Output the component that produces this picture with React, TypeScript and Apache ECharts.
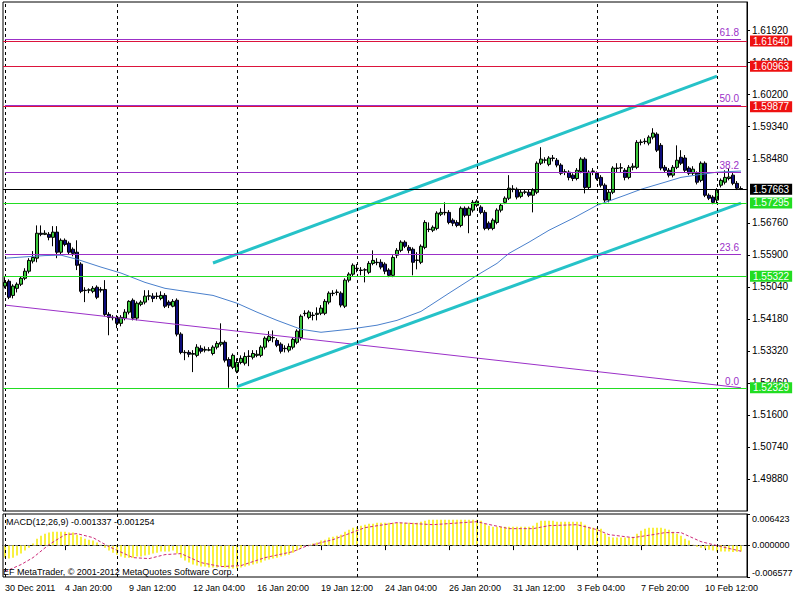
import { useEffect, useRef } from "react";
import * as echarts from "echarts";

// ---------- DATA ----------
const opens = [
  1.5506, 1.5519, 1.5481, 1.55, 1.5511, 1.5527, 1.5546, 1.5573, 1.5581, 1.5648,
  1.5645, 1.5645, 1.5637, 1.5651, 1.5597, 1.5629, 1.5621, 1.5605, 1.5597, 1.5565,
  1.5495, 1.5495, 1.5492, 1.5503, 1.5495, 1.5497, 1.543, 1.5422, 1.5422, 1.5406,
  1.542, 1.5436, 1.5468, 1.542, 1.5457, 1.5463, 1.5479, 1.5479, 1.5479, 1.5473,
  1.5481, 1.5463, 1.5452, 1.5468, 1.5377, 1.5328, 1.5328, 1.5323, 1.532, 1.5339,
  1.5334, 1.5334, 1.5325, 1.5342, 1.535, 1.5355, 1.5309, 1.5288, 1.5277, 1.5301,
  1.5299, 1.5317, 1.5315, 1.532, 1.532, 1.5342, 1.536, 1.5368, 1.536, 1.535,
  1.5339, 1.5334, 1.5342, 1.5355, 1.5368, 1.5433, 1.5422, 1.5428, 1.543, 1.5433,
  1.5433, 1.5463, 1.5487, 1.5489, 1.5487, 1.5452, 1.5522, 1.5538, 1.5554, 1.5549,
  1.5549, 1.5543, 1.5567, 1.557, 1.557, 1.5565, 1.5549, 1.5535, 1.5589, 1.5602,
  1.5624, 1.561, 1.5605, 1.5575, 1.557, 1.561, 1.5659, 1.5656, 1.5661, 1.5699,
  1.5704, 1.5704, 1.5683, 1.5677, 1.5669, 1.5715, 1.5696, 1.571, 1.5723, 1.5718,
  1.5704, 1.5675, 1.5661, 1.5677, 1.571, 1.5731, 1.5742, 1.5766, 1.5766, 1.5747,
  1.5758, 1.5758, 1.575, 1.5758, 1.5836, 1.5844, 1.5833, 1.585, 1.5844, 1.5831,
  1.5812, 1.5812, 1.5804, 1.5795, 1.5814, 1.5847, 1.5771, 1.5814, 1.5809, 1.5798,
  1.5777, 1.5737, 1.5758, 1.5823, 1.5823, 1.5817, 1.5798, 1.5825, 1.5825, 1.5892,
  1.5895, 1.589, 1.5906, 1.5914, 1.5884, 1.5825, 1.5817, 1.5804, 1.5825, 1.5852,
  1.585, 1.5823, 1.5809, 1.5809, 1.579, 1.5836, 1.575, 1.5745, 1.5737, 1.5777,
  1.5785, 1.5795, 1.5804, 1.5782, 1.5768,
];
const closes = [
  1.5516, 1.5476, 1.5506, 1.5511, 1.5527, 1.5546, 1.5575, 1.5583, 1.5648, 1.5645,
  1.5648, 1.5637, 1.5651, 1.5597, 1.5629, 1.5618, 1.5597, 1.5594, 1.5562, 1.5492,
  1.5494, 1.5496, 1.55, 1.5476, 1.5497, 1.543, 1.5422, 1.5421, 1.5406, 1.5422,
  1.5436, 1.5465, 1.542, 1.546, 1.5463, 1.5479, 1.548, 1.5473, 1.5478, 1.5481,
  1.5452, 1.5455, 1.5465, 1.5377, 1.5328, 1.5327, 1.5323, 1.5325, 1.5342, 1.5331,
  1.5336, 1.5335, 1.5342, 1.5352, 1.5355, 1.5307, 1.5291, 1.532, 1.5301, 1.5312,
  1.5317, 1.5318, 1.5325, 1.5323, 1.5342, 1.5366, 1.5371, 1.5367, 1.5347, 1.5331,
  1.5338, 1.5344, 1.5363, 1.5385, 1.5425, 1.5432, 1.5436, 1.5427, 1.5433, 1.5447,
  1.5465, 1.5487, 1.5486, 1.549, 1.5455, 1.5522, 1.5538, 1.5562, 1.5553, 1.5548,
  1.555, 1.5567, 1.5575, 1.5569, 1.5557, 1.5546, 1.5535, 1.5583, 1.5602, 1.5624,
  1.5613, 1.5602, 1.557, 1.5576, 1.5613, 1.5677, 1.5658, 1.5664, 1.5702, 1.5704,
  1.5703, 1.5677, 1.5675, 1.5669, 1.5715, 1.5696, 1.5715, 1.5731, 1.5734, 1.5704,
  1.5661, 1.5661, 1.5683, 1.571, 1.5723, 1.5742, 1.5769, 1.5767, 1.5745, 1.5758,
  1.5759, 1.575, 1.5764, 1.5836, 1.5847, 1.5845, 1.585, 1.5849, 1.5831, 1.5809,
  1.5813, 1.5798, 1.5795, 1.5817, 1.5847, 1.5771, 1.5812, 1.5815, 1.5795, 1.5777,
  1.5737, 1.5758, 1.5823, 1.5822, 1.5824, 1.5798, 1.5825, 1.5828, 1.5892, 1.5893,
  1.5894, 1.5906, 1.5917, 1.5871, 1.5823, 1.5817, 1.5804, 1.5825, 1.5844, 1.5836,
  1.5817, 1.5809, 1.582, 1.5785, 1.5836, 1.575, 1.5742, 1.5731, 1.5764, 1.579,
  1.5798, 1.5799, 1.5782, 1.5769, 1.57663,
];
const lows = [
  1.55, 1.5471, 1.5473, 1.5489, 1.5506, 1.5522, 1.554, 1.5567, 1.557, 1.564,
  1.5643, 1.5629, 1.5613, 1.5581, 1.5591, 1.5613, 1.5591, 1.5586, 1.5549, 1.5487,
  1.5463, 1.5487, 1.5487, 1.5471, 1.5489, 1.5425, 1.5374, 1.5414, 1.5393, 1.5398,
  1.5414, 1.543, 1.5414, 1.5414, 1.5452, 1.5457, 1.5468, 1.5463, 1.5471, 1.5468,
  1.5447, 1.5447, 1.5449, 1.5371, 1.5323, 1.5307, 1.5315, 1.5275, 1.5315, 1.5325,
  1.5328, 1.5331, 1.532, 1.5336, 1.5344, 1.5301, 1.5233, 1.5283, 1.5272, 1.5296,
  1.5293, 1.5291, 1.5309, 1.5315, 1.5315, 1.5336, 1.5355, 1.5355, 1.5342, 1.5325,
  1.5328, 1.5328, 1.5336, 1.535, 1.536, 1.5425, 1.5417, 1.5414, 1.5414, 1.5428,
  1.5428, 1.5457, 1.5479, 1.5481, 1.5449, 1.5447, 1.5516, 1.5532, 1.5543, 1.5535,
  1.5516, 1.5538, 1.5562, 1.5562, 1.5551, 1.5538, 1.553, 1.553, 1.5581, 1.5597,
  1.5608, 1.5594, 1.5535, 1.5551, 1.5565, 1.5605, 1.5651, 1.5651, 1.5656, 1.5694,
  1.5696, 1.5672, 1.5667, 1.5664, 1.5664, 1.5691, 1.5648, 1.5704, 1.5718, 1.5699,
  1.5656, 1.5656, 1.5656, 1.5672, 1.5704, 1.5726, 1.5737, 1.5758, 1.5739, 1.5742,
  1.5753, 1.5745, 1.5704, 1.5753, 1.5831, 1.5836, 1.5828, 1.5841, 1.5825, 1.5804,
  1.5804, 1.579, 1.5788, 1.579, 1.5809, 1.5755, 1.5766, 1.5804, 1.579, 1.5771,
  1.5731, 1.5731, 1.5753, 1.5812, 1.5812, 1.579, 1.5793, 1.5817, 1.582, 1.5884,
  1.5887, 1.5884, 1.59, 1.5866, 1.5817, 1.5812, 1.5798, 1.5798, 1.582, 1.5831,
  1.5812, 1.5804, 1.5804, 1.5779, 1.5785, 1.5745, 1.5737, 1.5726, 1.5729, 1.5771,
  1.5779, 1.579, 1.5777, 1.5764, 1.5764,
];
const highs = [
  1.553, 1.5524, 1.5511, 1.5516, 1.5532, 1.5554, 1.5581, 1.56, 1.5669, 1.5669,
  1.5656, 1.5651, 1.5667, 1.5667, 1.5634, 1.5634, 1.5626, 1.561, 1.5629, 1.557,
  1.5503, 1.55, 1.5506, 1.5508, 1.5503, 1.5522, 1.5436, 1.5428, 1.5428, 1.5428,
  1.5444, 1.5468, 1.5473, 1.5465, 1.5468, 1.5495, 1.5495, 1.5487, 1.5489, 1.5492,
  1.5487, 1.5468, 1.5471, 1.5473, 1.5382, 1.5334, 1.5334, 1.5334, 1.535, 1.5347,
  1.5344, 1.5342, 1.5347, 1.5358, 1.5406, 1.536, 1.5315, 1.5325, 1.5312, 1.532,
  1.5328, 1.5334, 1.5334, 1.5334, 1.5347, 1.5371, 1.5385, 1.5387, 1.5366, 1.5355,
  1.5347, 1.5352, 1.5368, 1.539, 1.543, 1.5441, 1.5441, 1.5436, 1.5449, 1.5455,
  1.5471, 1.5492, 1.5495, 1.5497, 1.5492, 1.5527, 1.5543, 1.5567, 1.5565, 1.5557,
  1.5554, 1.5573, 1.5602, 1.5581, 1.5578, 1.557, 1.5554, 1.5589, 1.5608, 1.5629,
  1.5629, 1.5616, 1.561, 1.5597, 1.5618, 1.5683, 1.5677, 1.5669, 1.5707, 1.5715,
  1.5731, 1.571, 1.5688, 1.5683, 1.572, 1.572, 1.572, 1.5737, 1.5739, 1.5723,
  1.571, 1.568, 1.5688, 1.5715, 1.5729, 1.5747, 1.5804, 1.5777, 1.5771, 1.5764,
  1.5764, 1.5764, 1.5769, 1.5841, 1.5879, 1.5852, 1.5855, 1.5858, 1.585, 1.5836,
  1.582, 1.5817, 1.5809, 1.5823, 1.5852, 1.5852, 1.5817, 1.5823, 1.5814, 1.5804,
  1.5782, 1.5764, 1.5828, 1.5836, 1.5836, 1.5823, 1.5831, 1.5836, 1.5898, 1.59,
  1.5903, 1.5911, 1.593, 1.5919, 1.589, 1.5831, 1.5823, 1.5831, 1.5884, 1.5871,
  1.5858, 1.5828, 1.5828, 1.5814, 1.5841, 1.5841, 1.5755, 1.575, 1.5769, 1.5795,
  1.5817, 1.5823, 1.5812, 1.5788, 1.5774,
];

// MACD main (histogram)
const macdMain = [
  -0.00258, -0.00278, -0.00258, -0.00216, -0.00175, -0.00113, -0.00052, 0.00031, 0.00134, 0.00196,
  0.00237, 0.00258, 0.00278, 0.00278, 0.00278, 0.00278, 0.00258, 0.00258, 0.00216, 0.00175,
  0.00134, 0.00113, 0.00093, 0.00052, 0.0001, -0.00052, -0.00113, -0.00155, -0.00196, -0.00237,
  -0.00258, -0.00258, -0.00258, -0.00237, -0.00237, -0.00216, -0.00196, -0.00175, -0.00155, -0.00134,
  -0.00134, -0.00134, -0.00113, -0.00175, -0.00258, -0.00319, -0.00361, -0.00402, -0.00422, -0.00443,
  -0.00443, -0.00464, -0.00464, -0.00464, -0.00443, -0.00464, -0.00484, -0.00484, -0.00484, -0.00464,
  -0.00443, -0.00422, -0.00402, -0.00381, -0.00361, -0.00319, -0.00299, -0.00278, -0.00258, -0.00237,
  -0.00216, -0.00196, -0.00155, -0.00113, -0.00052, -0.0001, 0.0001, 0.00031, 0.00052, 0.00093,
  0.00113, 0.00155, 0.00175, 0.00196, 0.00216, 0.00278, 0.00319, 0.00361, 0.00381, 0.00402,
  0.00422, 0.00443, 0.00443, 0.00464, 0.00464, 0.00464, 0.00464, 0.00464, 0.00464, 0.00464,
  0.00464, 0.00464, 0.00464, 0.00464, 0.00484, 0.00505, 0.00525, 0.00525, 0.00525, 0.00525,
  0.00525, 0.00525, 0.00525, 0.00525, 0.00525, 0.00525, 0.00525, 0.00525, 0.00525, 0.00505,
  0.00443, 0.00402, 0.00381, 0.00381, 0.00381, 0.00381, 0.00381, 0.00381, 0.00381, 0.00381,
  0.00381, 0.00381, 0.00402, 0.00464, 0.00505, 0.00505, 0.00505, 0.00505, 0.00484, 0.00484,
  0.00484, 0.00484, 0.00484, 0.00484, 0.00484, 0.00422, 0.00381, 0.00361, 0.00361, 0.0034,
  0.00237, 0.00175, 0.00155, 0.00155, 0.00155, 0.00155, 0.00155, 0.00175, 0.00237, 0.00299,
  0.0034, 0.00361, 0.00361, 0.00361, 0.00361, 0.0034, 0.00319, 0.00278, 0.00237, 0.00196,
  0.00134, 0.00093, 0.0001, -0.00031, -0.00052, -0.00072, -0.00093, -0.00113, -0.00134, -0.00134,
  -0.00134, -0.00134, -0.0014, -0.00137, -0.001337,
];
// MACD signal, sampled points [bar, value]
const macdSignal: [number, number][] = [
  [0, -0.00546], [4, -0.00402], [7, -0.00258], [11, 0.0001], [15, 0.00216], [18, 0.00237],
  [22, 0.00155], [26, -0.00031], [32, -0.00258], [36, -0.00278], [40, -0.00196], [44, -0.00175],
  [49, -0.00361], [54, -0.00443], [59, -0.00422], [65, -0.00258], [72, -0.00134], [75, -0.00031],
  [82, 0.00113], [90, 0.00361], [98, 0.00464], [107, 0.00422], [118, 0.00484], [120, 0.00443],
  [126, 0.0034], [132, 0.0034], [136, 0.00402], [143, 0.00422], [148, 0.00319], [151, 0.00216],
  [157, 0.00155], [162, 0.00216], [165, 0.00258], [169, 0.00258], [174, 0.00072], [178, -0.0001],
  [184, -0.001254],
];
// Moving average, sampled points [bar, price]
const movingAvg: [number, number][] = [
  [0, 1.5581], [10, 1.5588], [14, 1.5589], [18, 1.5578], [24, 1.5557], [29, 1.5541], [35, 1.5516],
  [40, 1.55], [45, 1.5492], [52, 1.5481], [58, 1.546], [63, 1.5436], [68, 1.5414], [74, 1.539],
  [79, 1.5382], [86, 1.539], [93, 1.5401], [98, 1.5414], [104, 1.5438], [109, 1.5473], [111, 1.5487],
  [118, 1.5535], [123, 1.5567], [126, 1.5594], [131, 1.5624], [136, 1.5656], [142, 1.5688],
  [148, 1.5723], [155, 1.575], [159, 1.5766], [165, 1.5785], [169, 1.5798], [174, 1.5806],
  [178, 1.5812], [184, 1.5815],
];

const timeLabelIdx = [0, 15, 31, 47, 63, 79, 95, 111, 127, 143, 159, 175];
const timeLabels = [
  "30 Dec 2011", "4 Jan 20:00", "9 Jan 12:00", "12 Jan 04:00", "16 Jan 20:00", "19 Jan 12:00",
  "24 Jan 04:00", "26 Jan 20:00", "31 Jan 12:00", "3 Feb 04:00", "7 Feb 20:00", "10 Feb 12:00",
];
const priceTicks = [
  1.6192, 1.6106, 1.602, 1.5934, 1.5848, 1.5676, 1.559, 1.5504, 1.5418, 1.5332, 1.5246,
  1.516, 1.5074, 1.4988,
];
const macdTicks = [0.006423, 0, -0.006577];

const redLevels = [1.6164, 1.60963, 1.59877];
const greenLevels = [1.57295, 1.55322, 1.52329];
const bidLevel = 1.57663;

const fibLabels = ["0.0", "23.6", "38.2", "50.0", "61.8"];
const fibPrices = [1.5231, 1.5591, 1.5812, 1.5991, 1.6169];

const trendPurple: [number, number][] = [[0, 1.5455], [184, 1.5233]];
const channelUpper: [number, number][] = [[52, 1.5568], [178, 1.607]];
const channelLower: [number, number][] = [[58, 1.5236], [184, 1.5729]];
const weekGridIdx = [0, 28, 58, 88, 118, 148, 178];

const macdHeader = "MACD(12,26,9) -0.001337 -0.001254";
const copyright = "EF MetaTrader, \u00A9 2001-2012 MetaQuotes Software Corp.";

// ---------- CHART ----------
const N_CATS = 186;
const FONT = '"Liberation Sans", Arial, sans-serif';

export default function App() {
  const ref = useRef<HTMLDivElement>(null);

  useEffect(() => {
    if (!ref.current) return;
    const chart = echarts.init(ref.current, undefined, { renderer: "svg" });
    const cats = Array.from({ length: N_CATS }, (_, i) => String(i));
    const labelMap: Record<number, string> = {};
    timeLabelIdx.forEach((idx, k) => (labelMap[idx] = timeLabels[k]));
    const showLabel = (index: number) => labelMap[index] !== undefined;

    const candleData = opens.map((o, i) => [o, closes[i], lows[i], highs[i]]);

    const levelLine = (value: number, color: string, bg: string, width = 1) => ({
      yAxis: value,
      lineStyle: { color, width, type: "solid" },
      label: {
        show: true,
        position: "end",
        distance: 3,
        formatter: value.toFixed(5),
        color: "#ffffff",
        backgroundColor: bg,
        padding: [1, 3, 0, 3],
        fontSize: 10,
        lineHeight: 10,
        fontFamily: FONT,
      },
    });

    const fibColor = "#9b30c8";
    const fibLines = fibPrices.map((p, k) => [
      {
        coord: [0, p],
        lineStyle: { color: fibColor, width: 1, type: "solid" },
        label: {
          show: true,
          position: "insideEndTop",
          distance: 2,
          formatter: fibLabels[k],
          color: fibColor,
          fontSize: 10,
          fontFamily: FONT,
        },
      },
      { coord: [184, p] },
    ]);

    const weekLines = weekGridIdx.map((i) => ({
      xAxis: i,
      lineStyle: { color: "#000", width: 1, type: [3, 3] },
      label: { show: false },
    }));

    chart.setOption({
      animation: false,
      backgroundColor: "#ffffff",
      textStyle: { fontFamily: FONT },
      grid: [
        { left: 3, right: 53, top: 2, height: 509, show: true, borderColor: "#000", borderWidth: 1 },
        { left: 3, right: 53, top: 514, height: 63, show: true, borderColor: "#000", borderWidth: 1 },
      ],
      xAxis: [
        {
          type: "category",
          gridIndex: 0,
          data: cats,
          boundaryGap: true,
          axisLine: { show: false },
          axisTick: { show: false },
          axisLabel: { show: false },
          splitLine: { show: false },
        },
        {
          type: "category",
          gridIndex: 1,
          data: cats,
          boundaryGap: true,
          axisLine: { show: true, lineStyle: { color: "#000" } },
          axisTick: {
            show: true,
            interval: (index: number) => showLabel(index),
            alignWithLabel: true,
            length: 5,
            lineStyle: { color: "#000" },
          },
          axisLabel: {
            interval: (index: number) => showLabel(index),
            formatter: (_v: string, index: number) => labelMap[index] || "",
            align: "left",
            color: "#000",
            fontSize: 9,
            margin: 6,
            fontFamily: FONT,
          },
          splitLine: { show: false },
        },
      ],
      yAxis: [
        {
          type: "value",
          gridIndex: 0,
          position: "right",
          min: 1.4902,
          max: 1.6269,
          axisLine: { show: true, lineStyle: { color: "#000" } },
          axisTick: { show: true, customValues: priceTicks, length: 3, lineStyle: { color: "#000" } },
          axisLabel: {
            customValues: priceTicks,
            formatter: (v: number) => v.toFixed(5),
            color: "#000",
            fontSize: 10,
            margin: 5,
            fontFamily: FONT,
          },
          splitLine: { show: false },
        },
        {
          type: "value",
          gridIndex: 1,
          position: "right",
          min: -0.006577,
          max: 0.006423,
          axisLine: { show: true, lineStyle: { color: "#000" } },
          axisTick: { show: true, customValues: macdTicks, length: 3, lineStyle: { color: "#000" } },
          axisLabel: {
            customValues: macdTicks,
            formatter: (v: number) => v.toFixed(6),
            color: "#000",
            fontSize: 9,
            margin: 5,
            fontFamily: FONT,
            verticalAlignMaxLabel: "bottom",
            verticalAlignMinLabel: "top",
          },
          splitLine: { show: false },
        },
      ],
      graphic: [
        {
          type: "text",
          left: 6,
          top: 517,
          z: 100,
          style: { text: macdHeader, fill: "#000", font: `9px ${FONT}` },
        },
        {
          type: "text",
          left: 3,
          top: 567,
          z: 100,
          style: { text: copyright, fill: "#000", font: `9px ${FONT}` },
        },
      ],
      series: [
        {
          type: "candlestick",
          xAxisIndex: 0,
          yAxisIndex: 0,
          data: candleData,
          barWidth: 3,
          itemStyle: {
            color: "#3cc83c",
            color0: "#0c0c7a",
            borderColor: "#000000",
            borderColor0: "#000000",
            borderWidth: 1,
          },
          markLine: {
            silent: true,
            precision: 5,
            symbol: ["none", "none"],
            animation: false,
            data: [
              ...weekLines,
              ...fibLines,
              levelLine(redLevels[0], "#dc143c", "#ee1111"),
              levelLine(redLevels[1], "#dc143c", "#ee1111"),
              levelLine(redLevels[2], "#dc143c", "#ee1111"),
              levelLine(bidLevel, "#000000", "#000000"),
              levelLine(greenLevels[0], "#22dd22", "#22dd22"),
              levelLine(greenLevels[1], "#22dd22", "#22dd22"),
              levelLine(greenLevels[2], "#22dd22", "#22dd22"),
            ],
          },
        },
        {
          type: "line",
          xAxisIndex: 0,
          yAxisIndex: 0,
          data: movingAvg,
          showSymbol: false,
          smooth: false,
          lineStyle: { color: "#4a80cc", width: 1 },
        },
        {
          type: "line",
          xAxisIndex: 0,
          yAxisIndex: 0,
          data: trendPurple,
          showSymbol: false,
          lineStyle: { color: fibColor, width: 1 },
        },
        {
          type: "line",
          xAxisIndex: 0,
          yAxisIndex: 0,
          data: channelUpper,
          showSymbol: false,
          lineStyle: { color: "#26c2c8", width: 3 },
        },
        {
          type: "line",
          xAxisIndex: 0,
          yAxisIndex: 0,
          data: channelLower,
          showSymbol: false,
          lineStyle: { color: "#26c2c8", width: 3 },
        },
        {
          type: "bar",
          xAxisIndex: 1,
          yAxisIndex: 1,
          data: macdMain,
          barWidth: 2,
          itemStyle: { color: "#f8f040" },
          markLine: {
            silent: true,
            precision: 6,
            symbol: ["none", "none"],
            animation: false,
            data: [
              { yAxis: 0, lineStyle: { color: "#808080", width: 1, type: [3, 3] }, label: { show: false } },
              ...weekLines,
            ],
          },
        },
        {
          type: "line",
          xAxisIndex: 1,
          yAxisIndex: 1,
          data: macdSignal,
          showSymbol: false,
          lineStyle: { color: "#cc2a78", width: 1, type: [3, 2] },
        },
      ],
    });
    return () => chart.dispose();
  }, []);

  return (
    <div
      ref={ref}
      style={{ position: "fixed", left: 0, top: 0, width: 800, height: 600, background: "#fff" }}
    />
  );
}
